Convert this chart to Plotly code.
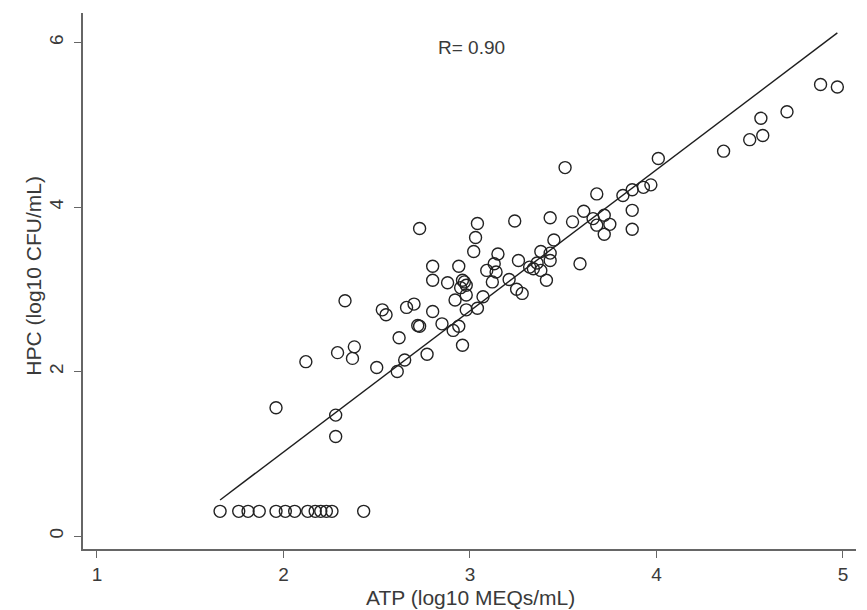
import plotly.graph_objects as go

# Censored points along the bottom (HPC at detection limit)
low_x = [1.66, 1.76, 1.81, 1.87, 1.96, 2.01, 2.06, 2.13, 2.17, 2.20, 2.23, 2.26, 2.43]
low_y = [0.30] * len(low_x)

atp = [2.33, 2.53, 2.55, 2.66, 2.70, 2.72, 2.62, 2.38, 2.29, 2.37, 2.12, 2.50, 2.65, 2.61,
       1.96, 2.28, 2.28,
       2.73, 3.04, 3.03, 3.02, 3.24, 3.43, 3.45, 2.80, 2.80, 2.94, 2.88, 2.96, 2.97, 2.95,
       2.98, 3.15, 3.13, 3.09, 3.14, 3.12, 3.26, 3.21, 3.25, 3.28, 3.32, 3.38, 3.43, 3.38,
       3.41, 3.36, 3.43, 3.34, 2.92, 2.98, 3.07, 3.04, 2.98, 2.80, 2.73, 2.85, 2.94, 2.91,
       2.96, 2.77,
       3.51, 4.01, 3.68, 3.82, 3.87, 3.93, 3.97, 3.87, 3.87, 3.61, 3.55, 3.66, 3.72, 3.68,
       3.75, 3.72, 3.59,
       4.88, 4.97, 4.70, 4.56, 4.57, 4.50, 4.36]
hpc = [2.86, 2.75, 2.69, 2.78, 2.82, 2.56, 2.41, 2.30, 2.23, 2.16, 2.12, 2.05, 2.14, 2.00,
       1.56, 1.47, 1.21,
       3.74, 3.80, 3.63, 3.46, 3.83, 3.87, 3.60, 3.28, 3.11, 3.28, 3.08, 3.11, 3.09, 3.02,
       3.05, 3.43, 3.31, 3.23, 3.21, 3.09, 3.35, 3.12, 3.00, 2.95, 3.27, 3.46, 3.44, 3.23,
       3.11, 3.32, 3.35, 3.25, 2.87, 2.93, 2.91, 2.77, 2.75, 2.73, 2.55, 2.58, 2.55, 2.50,
       2.32, 2.21,
       4.48, 4.59, 4.16, 4.14, 4.21, 4.24, 4.27, 3.96, 3.73, 3.95, 3.82, 3.86, 3.90, 3.78,
       3.79, 3.67, 3.31,
       5.49, 5.46, 5.16, 5.08, 4.87, 4.82, 4.68]

# Fitted regression line
fit_slope = 1.716
fit_intercept = -2.41
fit_x = [1.66, 4.97]
fit_y = [fit_slope * v + fit_intercept for v in fit_x]

x_ticks = [1, 2, 3, 4, 5]
y_ticks = [0, 2, 4, 6]
r_label = "R= 0.90"
x_title = "ATP (log10 MEQs/mL)"
y_title = "HPC (log10 CFU/mL)"

FONT = "Liberation Sans, Arial, Helvetica, sans-serif"
INK = "#3a3a3a"

fig = go.Figure()
fig.add_trace(go.Scatter(
    x=fit_x, y=fit_y, mode="lines",
    line=dict(color="#1e1e1e", width=1.4), showlegend=False, hoverinfo="skip"))
fig.add_trace(go.Scatter(
    x=atp + low_x, y=hpc + low_y, mode="markers",
    marker=dict(symbol="circle-open", size=12, color="#222222",
                line=dict(width=1.4, color="#222222")),
    showlegend=False))

axis_common = dict(
    showgrid=False, zeroline=False, showline=True, linecolor="#666666", linewidth=1.8,
    ticks="outside", ticklen=7, tickwidth=1.2, tickcolor="#666666",
    tickfont=dict(family=FONT, size=19, color=INK), mirror=False)

# page body has an 8px margin, so the figure is offset by 8px in the window
fig.update_layout(
    width=867, height=610,
    margin=dict(l=75, r=19, t=5, b=69),
    paper_bgcolor="white", plot_bgcolor="white",
    xaxis=dict(range=[0.925, 5.07], tickvals=x_ticks, **axis_common),
    yaxis=dict(range=[-0.158, 6.36], tickvals=y_ticks, tickangle=-90,
               ticklabelstandoff=4, **axis_common),
    annotations=[
        dict(text=r_label, x=3.01, y=5.94, xref="x", yref="y", showarrow=False,
             font=dict(family=FONT, size=19, color=INK)),
        dict(text=x_title, x=0.5007, y=-0.0914, xref="paper", yref="paper",
             showarrow=False, xanchor="center", yanchor="middle",
             font=dict(family=FONT, size=21, color=INK)),
        dict(text=y_title, x=-0.0634, y=0.51, xref="paper", yref="paper",
             showarrow=False, xanchor="center", yanchor="middle", textangle=-90,
             font=dict(family=FONT, size=21, color=INK)),
    ],
)

fig.write_html("out.html")
